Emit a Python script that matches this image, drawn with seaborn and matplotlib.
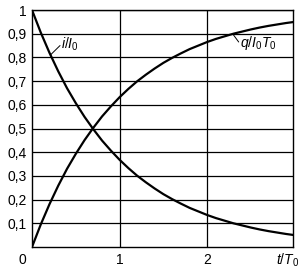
import matplotlib
matplotlib.use("Agg")
import matplotlib.pyplot as plt
import seaborn as sns
import pandas as pd

t = [0.0, 0.1, 0.2, 0.3, 0.4, 0.5, 0.6, 0.7, 0.8, 0.9, 1.0,
     1.1, 1.2, 1.3, 1.4, 1.5, 1.6, 1.7, 1.8, 1.9, 2.0,
     2.1, 2.2, 2.3, 2.4, 2.5, 2.6, 2.7, 2.8, 2.9, 3.0]
i_ratio = [1.000, 0.905, 0.819, 0.741, 0.670, 0.607, 0.549, 0.497, 0.449, 0.407, 0.368,
           0.333, 0.301, 0.273, 0.247, 0.223, 0.202, 0.183, 0.165, 0.150, 0.135,
           0.122, 0.111, 0.100, 0.091, 0.082, 0.074, 0.067, 0.061, 0.055, 0.050]
q_ratio = [0.000, 0.095, 0.181, 0.259, 0.330, 0.393, 0.451, 0.503, 0.551, 0.593, 0.632,
           0.667, 0.699, 0.727, 0.753, 0.777, 0.798, 0.817, 0.835, 0.850, 0.865,
           0.878, 0.889, 0.900, 0.909, 0.918, 0.926, 0.933, 0.939, 0.945, 0.950]
x_ticks = [1, 2]
x_tick_labels = ["1", "2"]
y_ticks = [0.1, 0.2, 0.3, 0.4, 0.5, 0.6, 0.7, 0.8, 0.9, 1.0]
y_tick_labels = ["0,1", "0,2", "0,3", "0,4", "0,5", "0,6", "0,7", "0,8", "0,9", "1"]

df = pd.DataFrame({
    "t": t + t,
    "v": i_ratio + q_ratio,
    "s": ["i"] * len(t) + ["q"] * len(t),
})

sns.set_theme(style="white")
plt.rcParams["font.family"] = ["Liberation Sans", "DejaVu Sans"]
plt.rcParams["mathtext.fontset"] = "custom"
plt.rcParams["mathtext.rm"] = "Liberation Sans"
plt.rcParams["mathtext.it"] = "Liberation Sans:italic"

fig = plt.figure(figsize=(3.0, 2.7), dpi=100)
ax = fig.add_axes([32 / 300, 23 / 270, 261 / 300, 237 / 270])

sns.lineplot(data=df, x="t", y="v", hue="s", palette=["black", "black"],
             linewidth=1.6, legend=False, ax=ax, sort=False)

ax.set_xlim(0, 2.98)
ax.set_ylim(0, 1)
ax.set_xticks(x_ticks)
ax.set_xticklabels(x_tick_labels)
ax.set_yticks(y_ticks)
ax.set_yticklabels(y_tick_labels)
ax.grid(True, color="black", linewidth=0.9)
ax.set_axisbelow(True)
for sp in ax.spines.values():
    sp.set_color("black")
    sp.set_linewidth(1.0)
ax.tick_params(axis="both", length=0, labelsize=10, colors="black", pad=4)
ax.set_xlabel("")
ax.set_ylabel("")

fs = 10
ax.text(-0.11, -0.055, "0", ha="center", va="center",
        fontsize=fs, color="black", clip_on=False)
ax.text(2.92, -0.055, r"$t/T_0$", ha="center", va="center", fontsize=fs,
        color="black", clip_on=False)

ax.plot([0.21, 0.32], [0.81, 0.85], color="black", linewidth=0.7)
ax.text(0.33, 0.855, r"$i/I_0$", ha="left", va="center", fontsize=fs, color="black")
ax.plot([2.30, 2.36], [0.895, 0.865], color="black", linewidth=0.7)
ax.text(2.38, 0.86, r"$q/I_0T_0$", ha="left", va="center", fontsize=fs, color="black")

fig.savefig("out.png", dpi=100)
